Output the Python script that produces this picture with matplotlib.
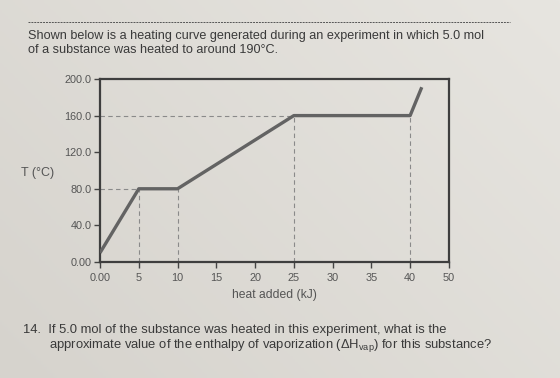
import numpy as np
import matplotlib.pyplot as plt

plt.rcParams['font.family'] = ['Liberation Sans', 'DejaVu Sans']
plt.rcParams['mathtext.fontset'] = 'custom'
plt.rcParams['mathtext.rm'] = 'Liberation Sans'

# heating curve (heat in kJ, temperature in C)
heat = [0, 5, 10, 25, 40, 41.5]
temp = [10, 80, 80, 160, 160, 191]

xticks = [0, 5, 10, 15, 20, 25, 30, 35, 40, 45]
xticklabels = ['0.00', '5', '10', '15', '20', '25', '30', '35', '40', '50']
yticks = [0, 40, 80, 120, 160, 200]
yticklabels = ['0.00', '40.0', '80.0', '120.0', '160.0', '200.0']

fig = plt.figure(figsize=(5.6, 3.78), dpi=100)

# photo-like background
bg = fig.add_axes([0, 0, 1, 1], zorder=-5)
g = np.linspace(0, 1, 200)
grad = np.add.outer(g * 0.4, g * 0.6)
bg.imshow(grad, cmap=plt.cm.colors.LinearSegmentedColormap.from_list('bg', ['#d6d3cd', '#e7e5e0']),
          aspect='auto', extent=[0, 1, 0, 1], origin='lower')
bg.axis('off')

ax = fig.add_axes([0.1786, 0.307, 0.623, 0.484])
ax.patch.set_alpha(0)

ax.plot(heat, temp, color='#636363', lw=2.4, solid_capstyle='butt', zorder=3)

dash = dict(color='#8a8a8a', lw=0.8, ls=(0, (4, 3)), zorder=2)
ax.plot([0, 25], [160, 160], **dash)
ax.plot([0, 5], [80, 80], **dash)
for xv, yv in [(5, 80), (10, 80), (25, 160), (40, 160)]:
    ax.plot([xv, xv], [0, yv], **dash)

ax.set_xlim(0, 45)
ax.set_ylim(0, 200)
ax.set_xticks(xticks)
ax.set_xticklabels(xticklabels)
ax.set_yticks(yticks)
ax.set_yticklabels(yticklabels)
ax.tick_params(length=4, width=1, color='#444444', labelcolor='#555555', labelsize=7.8, pad=2)
ax.tick_params(axis='x', pad=4)
for s in ax.spines.values():
    s.set_color('#3e3e3e')
    s.set_linewidth(1.6)

ax.set_xlabel('heat added (kJ)', fontsize=8.7, color='#555555', labelpad=4)
fig.text(38 / 560, 1 - 173 / 378, 'T (°C)', fontsize=9, color='#555555', ha='center', va='center')

# surrounding worksheet text
fig.add_artist(plt.Line2D([28 / 560, 510 / 560], [1 - 22 / 378] * 2, color='#555555', lw=0.7, ls=(0, (2, 1))))
fig.text(28 / 560, 1 - 36 / 378, 'Shown below is a heating curve generated during an experiment in which 5.0 mol',
         fontsize=9.1, color='#3a3a3a', va='center')
fig.text(28 / 560, 1 - 50 / 378, 'of a substance was heated to around 190°C.',
         fontsize=9.1, color='#3a3a3a', va='center')
fig.text(23 / 560, 1 - 330 / 378, '14.  If 5.0 mol of the substance was heated in this experiment, what is the',
         fontsize=9.4, color='#3a3a3a', va='center')
fig.text(49 / 560, 1 - 345 / 378,
         r'approximate value of the enthalpy of vaporization (ΔH$_{\mathrm{vap}}$) for this substance?',
         fontsize=9.4, color='#3a3a3a', va='center')

fig.savefig('out.png', dpi=100)
